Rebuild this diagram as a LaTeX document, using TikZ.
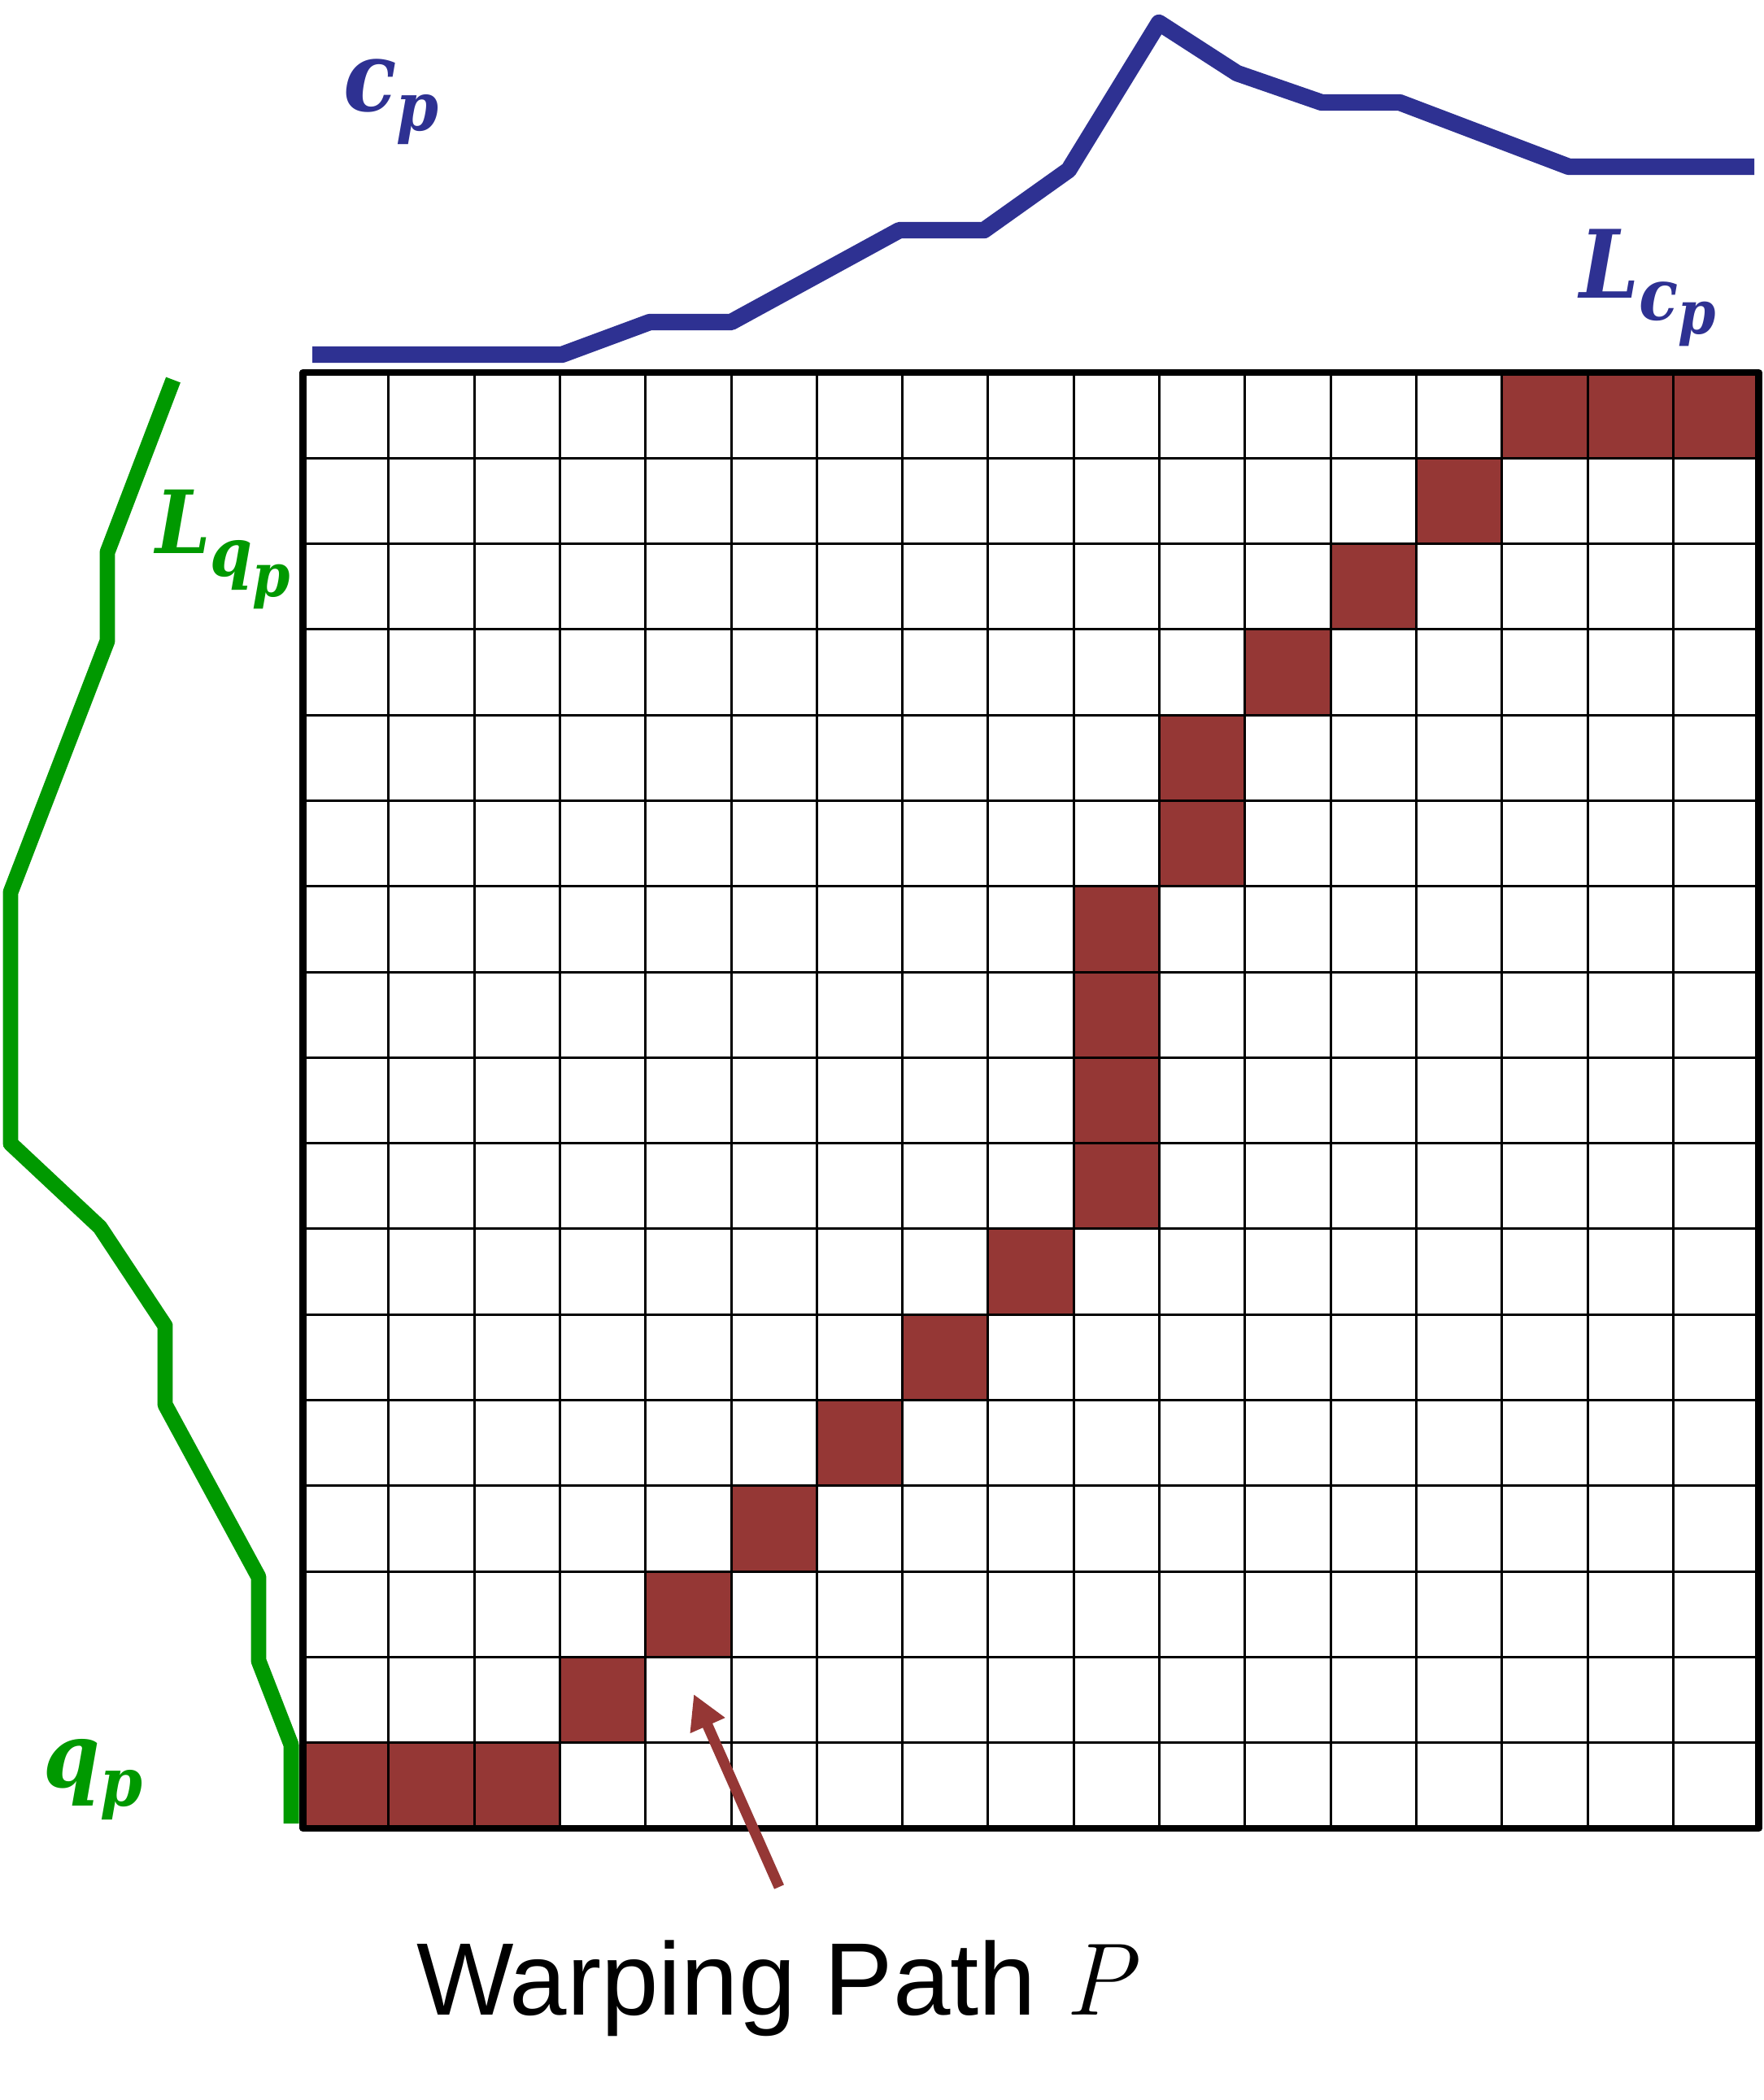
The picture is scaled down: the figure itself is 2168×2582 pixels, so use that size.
\documentclass[tikz,border=0pt]{standalone}
\usepackage{fontspec}
\newfontfamily\arialfont{Liberation Sans}
\newfontfamily\labfont{DejaVu Serif Condensed}
\usetikzlibrary{arrows.meta}
\definecolor{cpblue}{RGB}{46,49,146}
\definecolor{qpgreen}{RGB}{0,153,0}
\definecolor{pathred}{RGB}{149,55,53}
\tikzset{
  cpline/.style={draw=cpblue, line width=5.8pt, line join=round, line cap=butt},
  qpline/.style={draw=qpgreen, line width=5.4pt, line join=round, line cap=butt},
  cellfill/.style={fill=pathred},
  gridthin/.style={draw=black, line width=0.85pt},
  gridouter/.style={draw=black, line width=2.4pt, line join=round},
  lbl/.style={inner sep=0pt, outer sep=0pt, anchor=base west},
  patharrow/.style={draw=pathred, line width=3.7pt, -{Triangle[length=12pt,width=12.5pt]}},
}
\begin{document}
\begin{tikzpicture}[x=0.01cm, y=-0.01cm]
\useasboundingbox (0,0) rectangle (2168,2582);
% warping path cells (column/row counted from bottom-left)
\foreach \c/\r in {0/0,1/0,2/0,3/1,4/2,5/3,6/4,7/5,8/6,9/7,9/8,9/9,9/10,10/11,10/12,11/13,12/14,13/15,14/16,15/16,16/16}
  \fill[cellfill] ({372.5+\c*105.3},{2248-\r*105.3}) rectangle ++(105.3,-105.3);
% grid lines
\foreach \i in {1,...,16} {
  \draw[gridthin] ({372.5+\i*105.3},457.9) -- ({372.5+\i*105.3},2248);
  \draw[gridthin] (372.5,{2248-\i*105.3}) -- (2162.6,{2248-\i*105.3});
}
\draw[gridouter] (372.5,457.9) rectangle (2162.6,2248);
% series c_p (top)
\draw[cpline] (384,436) -- (691,436) -- (799,396) -- (899,396) -- (1106,283) -- (1210,283) -- (1314,209) -- (1425,28) -- (1521,90) -- (1625,126) -- (1721,126) -- (1929,205) -- (2157,205);
% series q_p (left)
\draw[qpline] (213,467) -- (132,679) -- (132,788) -- (13,1097) -- (13,1406) -- (123,1509) -- (203,1630) -- (203,1727) -- (318,1939) -- (318,2042) -- (358,2145) -- (358,2242);
% labels
\node[lbl, text=cpblue, font=\labfont\fontsize{34}{36}\selectfont\bfseries\itshape] (cp) at (422,137)
  {c\raisebox{-6.8pt}{\fontsize{23.5}{25}\selectfont p}};
\node[lbl, text=cpblue, font=\labfont\fontsize{33}{35}\selectfont\bfseries\itshape] (Lcp) at (1942,367)
  {L\raisebox{-7.4pt}{\fontsize{25}{27}\selectfont c\raisebox{-5.1pt}{\fontsize{21}{23}\selectfont p}}};
\node[lbl, text=qpgreen, font=\labfont\fontsize{30.5}{32}\selectfont\bfseries\itshape] (Lqp) at (191,680)
  {L\raisebox{-8pt}{\fontsize{23.5}{25}\selectfont q\raisebox{-7.1pt}{\fontsize{21}{23}\selectfont p}}};
\node[lbl, text=qpgreen, font=\labfont\fontsize{31.5}{33}\selectfont\bfseries\itshape] (qp) at (54,2197)
  {q\raisebox{-6.8pt}{\fontsize{23.5}{25}\selectfont p}};
\node[lbl, font=\fontsize{36}{38}\selectfont] (wp) at (512,2477)
  {{\arialfont Warping Path }\textit{P}};
% arrow
\coordinate (arrtail) at (958,2320);
\coordinate (arrtip) at (853,2083);
\draw[patharrow] (arrtail) -- (arrtip);
\end{tikzpicture}
\end{document}
